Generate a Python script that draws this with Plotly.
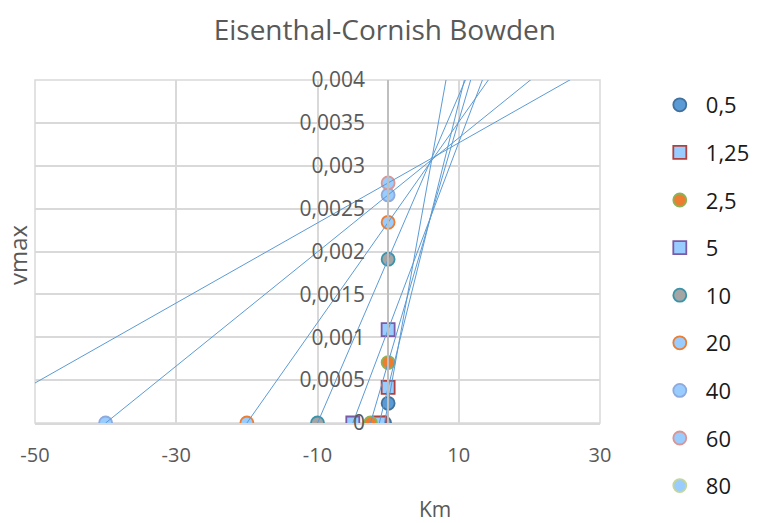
import plotly.graph_objects as go

# Substrate concentrations (series names) and measured rates
conc = [0.5, 1.25, 2.5, 5, 10, 20, 40, 60, 80]
series_names = ["0,5", "1,25", "2,5", "5", "10", "20", "40", "60", "80"]
rates = [0.00023, 0.000415, 0.000705, 0.00109, 0.00191, 0.00234, 0.00266, 0.0028, None]

# Marker styles per series
symbols = ["circle", "square", "circle", "square", "circle", "circle", "circle", "circle", "circle"]
fills = ["#5B9BD5", "#99CCFF", "#ED7D31", "#99CCFF", "#A5A5A5", "#99CCFF", "#99CCFF", "#99CCFF", "#99CCFF"]
edges = ["#41719C", "#B0413E", "#8CB356", "#7B5BA6", "#3A93A8", "#ED7D31", "#8FAADC", "#D99694", "#C3D69B"]

x_ticks = [-50, -30, -10, 10, 30]
x_ticktext = ["-50", "-30", "-10", "10", "30"]
y_ticks = [0, 0.0005, 0.001, 0.0015, 0.002, 0.0025, 0.003, 0.0035, 0.004]
y_ticktext = ["0", "0,0005", "0,001", "0,0015", "0,002", "0,0025", "0,003", "0,0035", "0,004"]

X_RANGE = [-50, 30]
Y_RANGE = [0, 0.004]
LINE_TOP = 0.0045  # lines extend past the top of the plot and get clipped

fig = go.Figure()

# Points: (-S, 0) on the Km axis and (0, v) on the vmax axis
for s, name, v, sym, fc, ec in zip(conc, series_names, rates, symbols, fills, edges):
    xs = [-s] if v is None else [-s, 0]
    ys = [0] if v is None else [0, v]
    fig.add_trace(go.Scatter(
        x=xs, y=ys, mode="markers", name=name, legendgroup=name,
        marker=dict(symbol=sym, size=13, color=fc, line=dict(color=ec, width=1.8)),
    ))

# Direct linear plot lines through (-S, 0) and (0, v), extended upward
for s, v in zip(conc, rates):
    if v is None:
        continue
    x_end = s * (LINE_TOP / v - 1)
    fig.add_trace(go.Scatter(
        x=[-s, x_end], y=[0, LINE_TOP], mode="lines", showlegend=False,
        line=dict(color="#5B9BD5", width=1), hoverinfo="skip",
    ))

grid = "#D9D9D9"
label_color = "#595959"
font = "Open Sans"

fig.update_layout(
    width=762, height=523,
    margin=dict(l=35, r=162, t=80, b=100),
    paper_bgcolor="white", plot_bgcolor="white",
    font=dict(family=font, color=label_color),
    title=dict(text="Eisenthal-Cornish Bowden", x=0.505, xref="container", xanchor="center",
               y=0.942, yref="container", yanchor="middle",
               font=dict(size=28, color=label_color, family=font)),
    xaxis=dict(range=X_RANGE, tickvals=x_ticks, ticktext=x_ticktext,
               showgrid=True, gridcolor=grid, gridwidth=1.5, zeroline=False,
               showline=True, linecolor=grid, linewidth=1.5,
               ticks="", ticklabelstandoff=13,
               tickfont=dict(size=20, color=label_color, family=font)),
    yaxis=dict(range=Y_RANGE, tickvals=y_ticks, ticktext=y_ticktext,
               anchor="free", position=(0 - X_RANGE[0]) / (X_RANGE[1] - X_RANGE[0]),
               showgrid=True, gridcolor=grid, gridwidth=1.5, zeroline=False,
               showline=True, linecolor="#BFBFBF", linewidth=2,
               ticks="", ticklabelstandoff=18,
               tickfont=dict(size=21, color=label_color, family=font)),
    legend=dict(x=0.858, xref="container", xanchor="left",
                y=1 - 84 / 523, yref="container", yanchor="top",
                maxheight=1.0,
                font=dict(size=22, color="#1A1A1A", family=font),
                traceorder="grouped", tracegroupgap=16, itemwidth=42,
                bgcolor="rgba(0,0,0,0)"),
    showlegend=True,
    shapes=[dict(type="rect", xref="x domain", yref="y domain", x0=0, x1=1, y0=0, y1=1,
                 line=dict(color=grid, width=1.5), layer="below")],
    annotations=[
        dict(text="Km", xref="paper", yref="paper", x=0.708, y=-0.25,
             xanchor="center", yanchor="middle", showarrow=False,
             font=dict(size=21, color=label_color, family=font)),
        dict(text="vmax", xref="paper", yref="paper", x=-0.030, y=0.49, textangle=-90,
             xanchor="center", yanchor="middle", showarrow=False,
             font=dict(size=24, color=label_color, family=font)),
    ],
)

fig.write_html("out.html")
